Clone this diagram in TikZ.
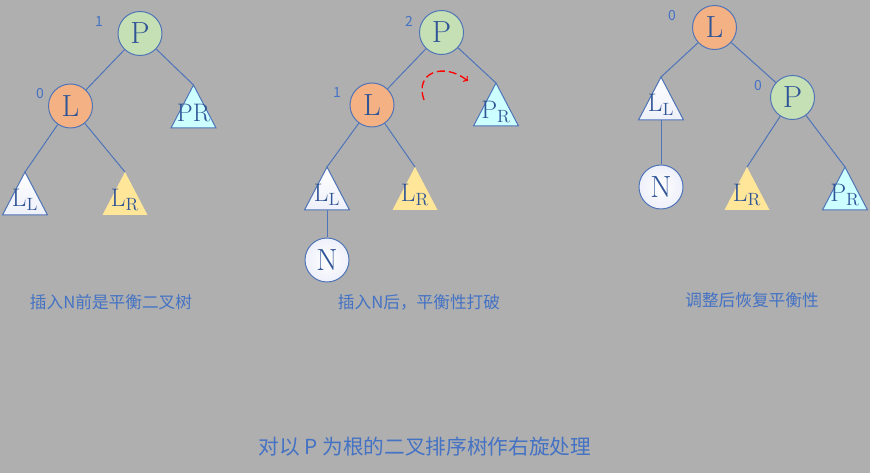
\documentclass[tikz,border=0pt]{standalone}
\usepackage{fontspec}
\newfontfamily\cjk{Noto Sans CJK SC}
\usepackage{tikz}

\definecolor{bggray}{RGB}{175,175,175}
\definecolor{capblue}{HTML}{4472C4}
\definecolor{letterblue}{HTML}{2F5597}
\definecolor{lineblue}{HTML}{4F74B8}
\definecolor{pgreen}{HTML}{C5E0B4}
\definecolor{lorange}{HTML}{F4B183}
\definecolor{pcyan}{HTML}{CCFFFF}
\definecolor{lgold}{HTML}{FFE699}
\definecolor{llwhite}{HTML}{EEF0FA}

\begin{document}
\begin{tikzpicture}[x=0.75pt, y=-0.75pt,
  every node/.style={inner sep=0pt},
  circ/.style={circle, draw=lineblue, line width=0.75pt, minimum size=33pt, text=letterblue, font=\fontsize{23}{23}\selectfont},
  tri/.style={draw=lineblue, line width=0.75pt},
  trilabel/.style={text=letterblue, font=\fontsize{19}{19}\selectfont},
  edge/.style={draw=lineblue, line width=0.75pt},
  balance/.style={text=capblue, font=\cjk\fontsize{10.5}{10.5}\selectfont},
  caption/.style={text=capblue, font=\cjk\fontsize{12.5}{12.5}\selectfont}]
  \fill[bggray] (0,0) rectangle (870,473);
  \useasboundingbox (0,0) rectangle (870,473);

  % before inserting N
  \node[circ, fill=pgreen] (P1) at (140,33.5) {P};
  \node[circ, fill=lorange] (L1) at (70.5,106) {L};
  \node[balance] (bfP1) at (99,22) {1};
  \node[balance] (bfL1) at (40,94) {0};
  \coordinate (PR1) at (193.5,85);
  \filldraw[tri, fill=pcyan] (PR1) -- ++(-22.5,43) -- ++(45,0) -- cycle;
  \node[trilabel] (PR1t) at (193.5,113) {PR};
  \coordinate (LL1) at (25,172);
  \filldraw[tri, top color=white, bottom color=llwhite] (LL1) -- ++(-22.5,43) -- ++(45,0) -- cycle;
  \node[trilabel] (LL1t) at (25,200) {$\mathrm{L_L}$};
  \coordinate (LR1) at (125,172);
  \fill[lgold] (LR1) -- ++(-22.5,43) -- ++(45,0) -- cycle;
  \node[trilabel] (LR1t) at (125,200) {$\mathrm{L_R}$};
  \draw[edge] (P1) -- (L1);
  \draw[edge] (P1) -- (PR1);
  \draw[edge] (L1) -- (LL1);
  \draw[edge] (L1) -- (LR1);
  \node[caption] (cap1) at (111,302) {插入N前是平衡二叉树};

  % after inserting N
  \node[circ, fill=pgreen] (P2) at (441.5,32.5) {P};
  \node[circ, fill=lorange] (L2) at (372,105) {L};
  \node[balance] (bfP2) at (409,21) {2};
  \node[balance] (bfL2) at (337,93) {1};
  \coordinate (PR2) at (496,83);
  \filldraw[tri, fill=pcyan] (PR2) -- ++(-22.5,43) -- ++(45,0) -- cycle;
  \node[trilabel] (PR2t) at (496,112) {$\mathrm{P_R}$};
  \coordinate (LL2) at (327,167);
  \filldraw[tri, top color=white, bottom color=llwhite] (LL2) -- ++(-22.5,43) -- ++(45,0) -- cycle;
  \node[trilabel] (LL2t) at (327,195) {$\mathrm{L_L}$};
  \coordinate (LR2) at (415,167);
  \fill[lgold] (LR2) -- ++(-22.5,43) -- ++(45,0) -- cycle;
  \node[trilabel] (LR2t) at (415,195) {$\mathrm{L_R}$};
  \coordinate (LL2b) at (327,210);
  \node[circ, inner color=white, outer color=llwhite] (N2) at (327,260) {N};
  \draw[edge] (P2) -- (L2);
  \draw[edge] (P2) -- (PR2);
  \draw[edge] (L2) -- (LL2);
  \draw[edge] (L2) -- (LR2);
  \draw[edge] (LL2b) -- (N2);
  \coordinate (rotfrom) at (424,100);
  \coordinate (rotto) at (468,81);
  \draw[red, line width=1pt, dash pattern=on 6pt off 3pt, ->] (rotfrom) .. controls (414,72) and (444,62) .. (rotto);
  \node[caption] (cap2) at (419,302) {插入N后，平衡性打破};

  % after right rotation
  \node[circ, fill=lorange] (L3) at (714.5,27.5) {L};
  \node[circ, fill=pgreen] (P3) at (792.5,97.5) {P};
  \node[balance] (bfL3) at (672,16) {0};
  \node[balance] (bfP3) at (758,86) {0};
  \coordinate (LL3) at (661,77);
  \filldraw[tri, top color=white, bottom color=llwhite] (LL3) -- ++(-22.5,43) -- ++(45,0) -- cycle;
  \node[trilabel] (LL3t) at (661,105) {$\mathrm{L_L}$};
  \coordinate (LL3b) at (661,120);
  \node[circ, inner color=white, outer color=llwhite] (N3) at (661,187) {N};
  \coordinate (LR3) at (747,167);
  \fill[lgold] (LR3) -- ++(-22.5,43) -- ++(45,0) -- cycle;
  \node[trilabel] (LR3t) at (747,195) {$\mathrm{L_R}$};
  \coordinate (PR3) at (845,167);
  \filldraw[tri, fill=pcyan] (PR3) -- ++(-22.5,43) -- ++(45,0) -- cycle;
  \node[trilabel] (PR3t) at (845,195) {$\mathrm{P_R}$};
  \draw[edge] (L3) -- (LL3);
  \draw[edge] (L3) -- (P3);
  \draw[edge] (LL3b) -- (N3);
  \draw[edge] (P3) -- (LR3);
  \draw[edge] (P3) -- (PR3);
  \node[caption] (cap3) at (752,300) {调整后恢复平衡性};

  \node[caption, font=\cjk\fontsize{15.5}{15.5}\selectfont] (title) at (425,447) {对以 P 为根的二叉排序树作右旋处理};
\end{tikzpicture}
\end{document}
